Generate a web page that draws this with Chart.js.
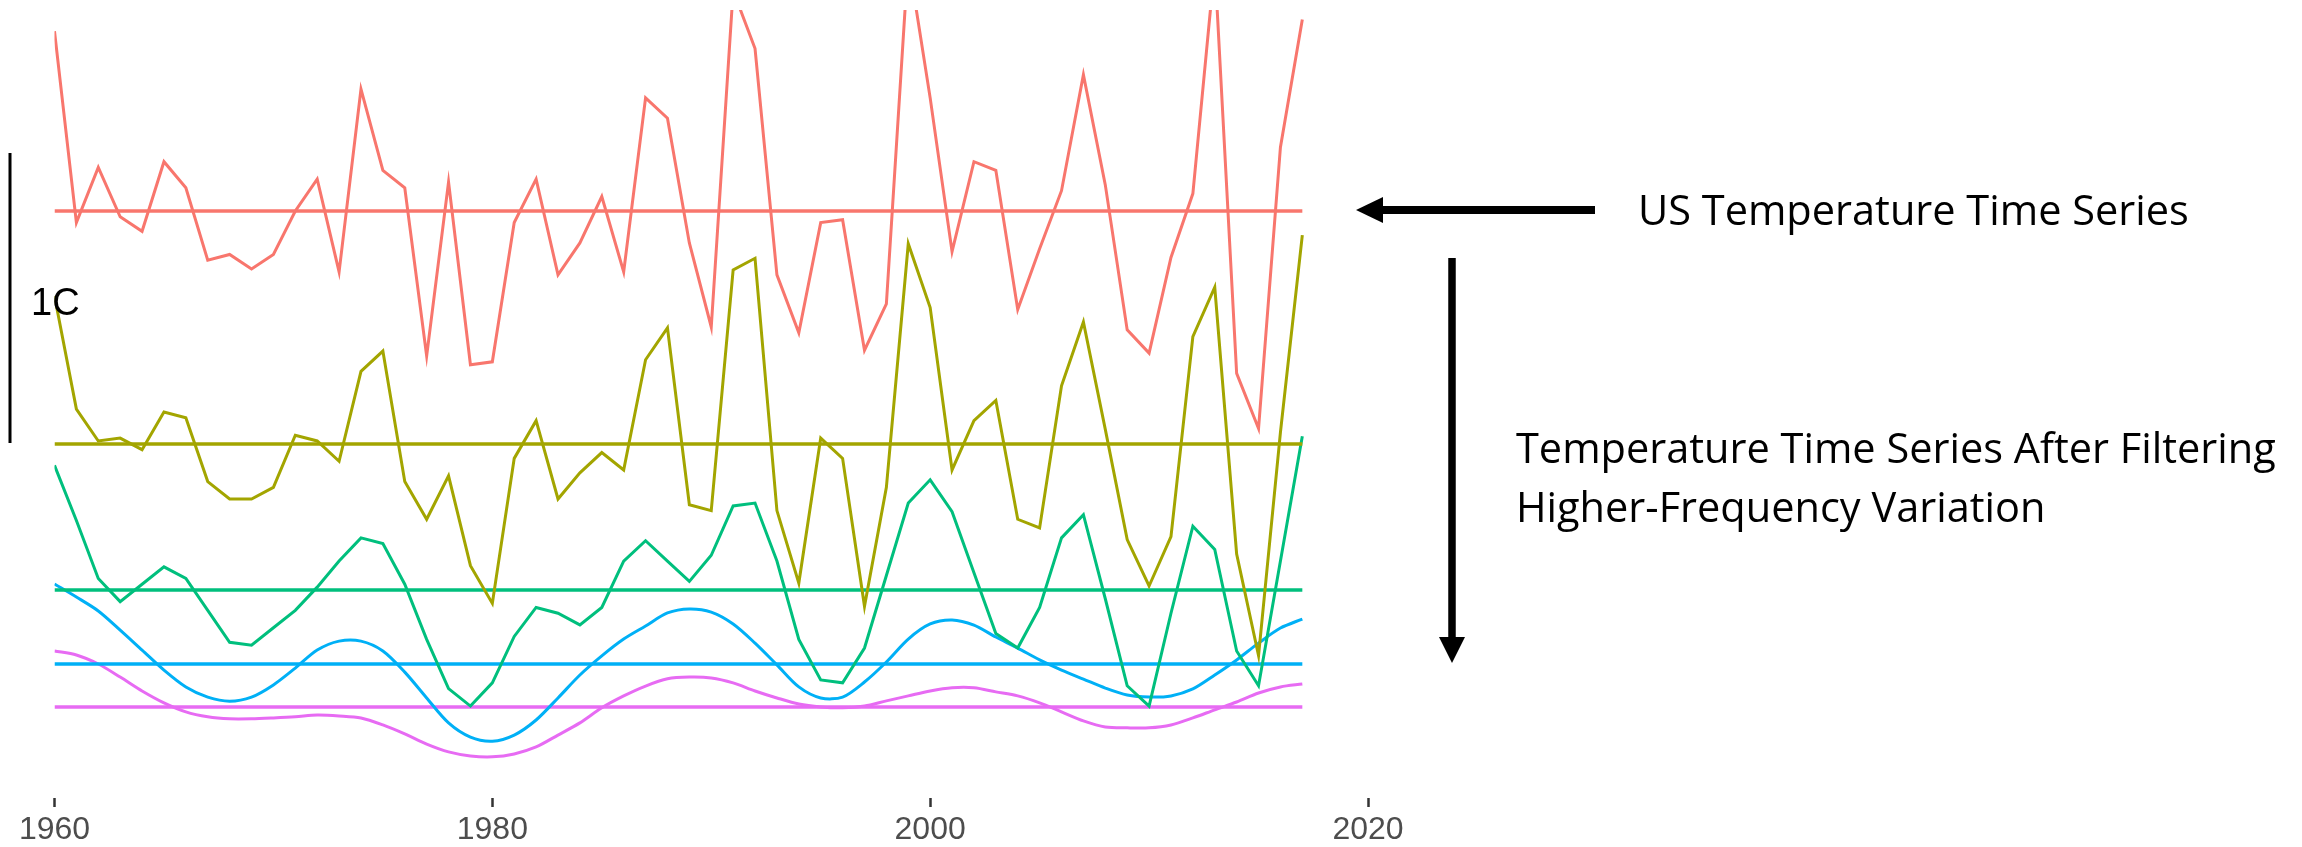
<!DOCTYPE html>
<html>
<head>
<meta charset="utf-8">
<title>US Temperature Time Series</title>
<script src="https://cdn.jsdelivr.net/npm/chart.js@4"></script>
<style>
  html, body { margin: 0; padding: 0; background: #fff; }
  #wrap { position: relative; width: 2302px; height: 847px; }
  #chart { position: absolute; left: 0; top: 0; }
  #notes { position: absolute; left: 0; top: 0; pointer-events: none; }
  .note { font-family: "Open Sans", sans-serif; font-size: 41.5px; fill: #000; }
</style>
</head>
<body>
<div id="wrap">
  <canvas id="chart" width="2302" height="847"></canvas>
  <svg id="notes" width="2302" height="847">
    <!-- 1C scale bar -->
    <line x1="10" y1="153" x2="10" y2="443" stroke="#000" stroke-width="3" />
    <text x="31" y="315" font-family="Liberation Sans, Arial, sans-serif" font-size="38" fill="#000">1C</text>
    <!-- arrow to raw series -->
    <line x1="1378" y1="210" x2="1595" y2="210" stroke="#000" stroke-width="8" />
    <polygon points="1356,210 1383,197 1383,223" fill="#000" />
    <!-- arrow down to filtered series -->
    <line x1="1452" y1="258" x2="1452" y2="642" stroke="#000" stroke-width="7.5" />
    <polygon points="1452,663 1439,637 1465,637" fill="#000" />
    <text class="note" x="1638" y="225">US Temperature Time Series</text>
    <text class="note" x="1516" y="463">Temperature Time Series After Filtering</text>
    <text class="note" x="1516" y="522">Higher-Frequency Variation</text>
  </svg>
</div>

<script>
// years on the x axis
const years = [1960, 1961, 1962, 1963, 1964, 1965, 1966, 1967, 1968, 1969,
  1970, 1971, 1972, 1973, 1974, 1975, 1976, 1977, 1978, 1979,
  1980, 1981, 1982, 1983, 1984, 1985, 1986, 1987, 1988, 1989,
  1990, 1991, 1992, 1993, 1994, 1995, 1996, 1997, 1998, 1999,
  2000, 2001, 2002, 2003, 2004, 2005, 2006, 2007, 2008, 2009,
  2010, 2011, 2012, 2013, 2014, 2015, 2016, 2017];
const xTicks = [1960, 1980, 2000, 2020];

// anomalies (deg C) relative to each series' own mean line
const usTemp = [0.62, -0.04, 0.15, -0.02, -0.07, 0.17, 0.08, -0.17, -0.15, -0.20,
  -0.15, 0.00, 0.11, -0.21, 0.42, 0.14, 0.08, -0.50, 0.10, -0.53,
  -0.52, -0.04, 0.11, -0.22, -0.11, 0.05, -0.21, 0.39, 0.32, -0.11,
  -0.40, 0.76, 0.56, -0.22, -0.42, -0.04, -0.03, -0.48, -0.32, 0.87,
  0.39, -0.14, 0.17, 0.14, -0.34, -0.13, 0.07, 0.47, 0.09, -0.41,
  -0.49, -0.16, 0.06, 0.85, -0.56, -0.75, 0.22, 0.66];
const filter1 = [0.51, 0.12, 0.01, 0.02, -0.02, 0.11, 0.09, -0.13, -0.19, -0.19,
  -0.15, 0.03, 0.01, -0.06, 0.25, 0.32, -0.13, -0.26, -0.11, -0.42,
  -0.55, -0.05, 0.08, -0.19, -0.10, -0.03, -0.09, 0.29, 0.40, -0.21,
  -0.23, 0.60, 0.64, -0.23, -0.48, 0.02, -0.05, -0.56, -0.15, 0.69,
  0.47, -0.09, 0.08, 0.15, -0.26, -0.29, 0.20, 0.42, 0.05, -0.33,
  -0.49, -0.32, 0.37, 0.54, -0.38, -0.73, 0.04, 0.72];
const filter2 = [0.43, 0.24, 0.04, -0.04, 0.02, 0.08, 0.04, -0.07, -0.18, -0.19,
  -0.13, -0.07, 0.01, 0.10, 0.18, 0.16, 0.02, -0.17, -0.34, -0.40,
  -0.32, -0.16, -0.06, -0.08, -0.12, -0.06, 0.10, 0.17, 0.10, 0.03,
  0.12, 0.29, 0.30, 0.10, -0.17, -0.31, -0.32, -0.20, 0.05, 0.30,
  0.38, 0.27, 0.06, -0.15, -0.20, -0.06, 0.18, 0.26, -0.03, -0.33,
  -0.40, -0.08, 0.22, 0.14, -0.21, -0.33, 0.10, 0.53];
const filter3 = [0.276, 0.231, 0.183, 0.117, 0.048, -0.021, -0.079, -0.114, -0.128, -0.114,
  -0.072, -0.014, 0.048, 0.079, 0.079, 0.045, -0.028, -0.117, -0.203, -0.252,
  -0.266, -0.245, -0.193, -0.117, -0.038, 0.028, 0.086, 0.131, 0.176, 0.190,
  0.179, 0.138, 0.072, -0.003, -0.079, -0.117, -0.114, -0.062, 0.007, 0.086,
  0.138, 0.152, 0.134, 0.093, 0.055, 0.014, -0.021, -0.052, -0.083, -0.107,
  -0.114, -0.110, -0.086, -0.038, 0.014, 0.072, 0.124, 0.155];
const filter4 = [0.193, 0.179, 0.148, 0.103, 0.055, 0.014, -0.017, -0.034, -0.041, -0.041,
  -0.038, -0.034, -0.028, -0.031, -0.038, -0.062, -0.093, -0.128, -0.155, -0.169,
  -0.172, -0.162, -0.138, -0.097, -0.055, -0.003, 0.038, 0.072, 0.097, 0.103,
  0.100, 0.083, 0.055, 0.031, 0.010, 0.000, -0.003, 0.003, 0.021, 0.038,
  0.055, 0.066, 0.066, 0.052, 0.038, 0.014, -0.017, -0.048, -0.069, -0.072,
  -0.072, -0.062, -0.038, -0.010, 0.017, 0.048, 0.069, 0.079];

// vertical offset of each series' mean line (deg C), raw series on top
const seriesOffsets = [1.71, 0.907, 0.403, 0.148, 0];
const seriesValues = [usTemp, filter1, filter2, filter3, filter4];
const seriesColors = ["#F8766D", "#A3A500", "#00BF7D", "#00B0F6", "#E76BF3"];
const seriesTension = [0, 0, 0, 0.3, 0.3];

const datasets = [];
seriesValues.forEach((vals, i) => {
  const off = seriesOffsets[i];
  datasets.push({
    data: years.map((yr, j) => ({ x: yr, y: vals[j] + off })),
    borderColor: seriesColors[i],
    borderWidth: 3,
    tension: seriesTension[i],
    pointRadius: 0,
  });
  // mean line
  datasets.push({
    data: [
      { x: years[0], y: off },
      { x: years[years.length - 1], y: off },
    ],
    borderColor: seriesColors[i],
    borderWidth: 3.5,
    pointRadius: 0,
  });
});

const ctx = document.getElementById("chart").getContext("2d");
new Chart(ctx, {
  type: "line",
  data: { datasets: datasets },
  options: {
    responsive: false,
    animation: false,
    events: [],
    layout: { padding: { left: 54.5, right: 934, top: 10, bottom: 0 } },
    plugins: { legend: { display: false }, tooltip: { enabled: false } },
    scales: {
      x: {
        type: "linear",
        min: 1960,
        max: 2020,
        afterBuildTicks: (scale) => {
          scale.ticks = xTicks.map((v) => ({ value: v }));
        },
        afterFit: (scale) => {
          scale.height = 49;
        },
        border: { display: false },
        grid: {
          drawOnChartArea: false,
          drawTicks: true,
          tickLength: 9,
          tickColor: "#333333",
          tickWidth: 2.5,
        },
        ticks: {
          padding: 4,
          maxRotation: 0,
          color: "#4D4D4D",
          font: { family: "Liberation Sans, Arial, sans-serif", size: 32 },
          callback: (v) => String(v),
        },
      },
      y: {
        display: false,
        min: -0.314,
        max: 2.403,
      },
    },
  },
});
</script>
</body>
</html>
